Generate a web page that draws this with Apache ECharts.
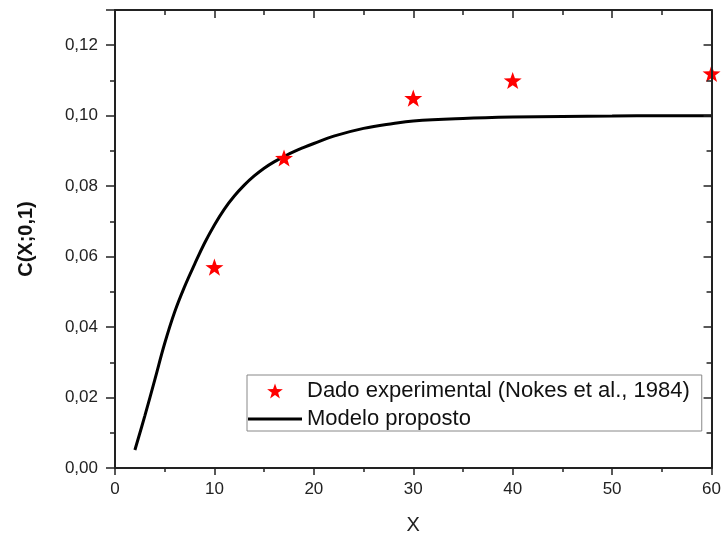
<!DOCTYPE html>
<html>
<head>
<meta charset="utf-8">
<script src="https://cdn.jsdelivr.net/npm/echarts@6/dist/echarts.min.js"></script>
<style>
  html, body { margin: 0; padding: 0; background: #ffffff; }
  #chart { width: 724px; height: 541px; }
</style>
</head>
<body>
<div id="chart"></div>
<script>
// Experimental points (Nokes et al., 1984)
const expX = [10, 17, 30, 40, 60];
const expC = [0.057, 0.088, 0.105, 0.110, 0.112];

// Proposed model curve, C(X; 0,1)
const modelX = [2, 3, 4, 5, 6, 7, 8, 9, 10, 11, 12, 13, 14, 15, 16, 17, 18, 19, 20, 22, 25, 28, 30, 35, 40, 45, 50, 55, 60];
const modelC = [0.0051, 0.0148, 0.0250, 0.0354, 0.0443, 0.0515, 0.0578, 0.0638, 0.0690, 0.0735, 0.0772, 0.0803, 0.0829, 0.0851, 0.0869, 0.0884, 0.0898, 0.0910, 0.0921, 0.0942, 0.0964, 0.0978, 0.0985, 0.0992, 0.0996, 0.0998, 0.0999, 0.1000, 0.1000];

// Axis settings
const xMin = 0, xMax = 60, xStep = 10;
const yMin = 0, yMax = 0.13, yStep = 0.02;

const seriesNames = ['Dado experimental (Nokes et al., 1984)', 'Modelo proposto'];
const axisTitles = { x: 'X', y: 'C(X;0,1)' };

const FONT = 'Liberation Sans, Arial, sans-serif';
const STAR = 'path://M0,-10 L2.35,-3.24 L9.51,-3.09 L3.8,1.24 L5.88,8.09 L0,4 L-5.88,8.09 L-3.8,1.24 L-9.51,-3.09 L-2.35,-3.24 Z';
const LINE_ICON = 'path://M0,0 L54,0 L54,3 L0,3 Z';

const axisLine = { show: true, onZero: false, lineStyle: { color: '#222', width: 2 } };
const tickStyle = { color: '#222', width: 1.5 };
const yLabel = v => {
  const k = Math.round(v / yStep);
  if (Math.abs(v - k * yStep) > 1e-9) return '';
  return (k * yStep).toFixed(2).replace('.', ',');
};

const chart = echarts.init(document.getElementById('chart'), null, { renderer: 'canvas' });
chart.setOption({
  backgroundColor: '#ffffff',
  animation: false,
  grid: { left: 115, right: 8, top: 10, bottom: 73, containLabel: false },
  xAxis: [
    {
      type: 'value', min: xMin, max: xMax, interval: xStep, position: 'bottom',
      name: axisTitles.x, nameLocation: 'middle', nameGap: 47,
      nameTextStyle: { fontFamily: FONT, fontSize: 20, color: '#222' },
      axisLine: axisLine,
      axisTick: { show: true, inside: false, length: 7, lineStyle: tickStyle },
      minorTick: { show: true, splitNumber: 2, length: 4, lineStyle: tickStyle },
      axisLabel: { margin: 13, fontFamily: FONT, fontSize: 17, color: '#222' },
      splitLine: { show: false }
    },
    {
      type: 'value', min: xMin, max: xMax, interval: xStep, position: 'top',
      axisLine: axisLine,
      axisTick: { show: true, inside: true, length: 8, lineStyle: tickStyle },
      minorTick: { show: true, splitNumber: 2, length: 5, lineStyle: tickStyle },
      axisLabel: { show: false },
      splitLine: { show: false }
    }
  ],
  yAxis: [
    {
      type: 'value', min: yMin, max: yMax, interval: yStep, position: 'left',
      name: axisTitles.y, nameLocation: 'middle', nameGap: 79,
      nameTextStyle: { fontFamily: FONT, fontSize: 20, fontWeight: 'bold', color: '#111' },
      axisLine: axisLine,
      axisTick: { show: true, inside: false, length: 9, lineStyle: tickStyle },
      minorTick: { show: true, splitNumber: 2, length: 5, lineStyle: tickStyle },
      axisLabel: { margin: 17, fontFamily: FONT, fontSize: 17, color: '#222', formatter: yLabel, showMaxLabel: false },
      splitLine: { show: false }
    },
    {
      type: 'value', min: yMin, max: yMax, interval: yStep, position: 'right', z: 5,
      axisLine: axisLine,
      axisTick: { show: true, inside: true, length: 8, lineStyle: tickStyle },
      minorTick: { show: true, splitNumber: 2, length: 5, lineStyle: tickStyle },
      axisLabel: { show: false },
      splitLine: { show: false }
    }
  ],
  legend: {
    orient: 'vertical',
    left: 247, top: 375,
    padding: [5, 12, 1, 1],
    itemWidth: 54, itemHeight: 15, itemGap: 6,
    symbolKeepAspect: true,
    backgroundColor: '#ffffff',
    borderColor: '#888', borderWidth: 1, borderRadius: 0,
    textStyle: { fontFamily: FONT, fontSize: 22, color: '#111' },
    data: [
      { name: seriesNames[0], icon: STAR, itemStyle: { color: '#ff0000', opacity: 1 } },
      { name: seriesNames[1], icon: LINE_ICON, itemStyle: { color: '#000000' } }
    ]
  },
  series: [
    {
      name: seriesNames[0],
      type: 'scatter',
      symbol: STAR, symbolSize: 18, symbolKeepAspect: true,
      itemStyle: { color: '#ff0000', opacity: 1 },
      clip: true,
      data: expX.map((x, i) => [x, expC[i]]),
      z: 3
    },
    {
      name: seriesNames[1],
      type: 'line',
      symbol: 'none', smooth: 0.4,
      lineStyle: { color: '#000000', width: 3 },
      itemStyle: { color: '#000000' },
      data: modelX.map((x, i) => [x, modelC[i]]),
      z: 2
    }
  ]
});
</script>
</body>
</html>
